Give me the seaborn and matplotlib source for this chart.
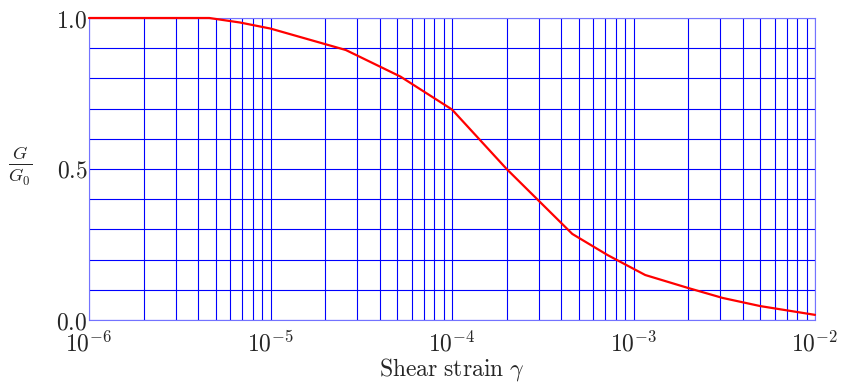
import matplotlib
matplotlib.use("Agg")
import matplotlib.pyplot as plt
import seaborn as sns
import numpy as np
import pandas as pd
from matplotlib.ticker import LogLocator, FixedLocator, NullFormatter

strain = [1e-6, 4.6e-6, 6.8e-6, 1.0e-5, 2.6e-5, 5.2e-5, 1.0e-4, 2.0e-4,
          4.6e-4, 7.2e-4, 1.16e-3, 2.0e-3, 3.1e-3, 5.0e-3, 1e-2]
ratio = [1.0, 1.0, 0.985, 0.965, 0.894, 0.806, 0.697, 0.50,
         0.285, 0.215, 0.149, 0.106, 0.073, 0.046, 0.017]
xtick_vals = [1e-6, 1e-5, 1e-4, 1e-3, 1e-2]
xtick_labels = [r"$10^{-6}$", r"$10^{-5}$", r"$10^{-4}$", r"$10^{-3}$", r"$10^{-2}$"]
ytick_vals = [0.0, 0.5, 1.0]
ytick_labels = [r"$0.0$", r"$0.5$", r"$1.0$"]

sns.set_theme(style="white")
plt.rcParams["mathtext.fontset"] = "cm"
plt.rcParams["font.family"] = ["DejaVu Serif"]

df = pd.DataFrame({"strain": strain, "ratio": ratio})

fig = plt.figure(figsize=(8.52, 3.84), dpi=100)
ax = fig.add_axes([89/852, 1-320/384, (815-89)/852, (320-18)/384])

ax.set_xscale("log")
ax.set_xlim(1e-6, 1e-2)
ax.set_ylim(0, 1)

# grid
ax.xaxis.set_major_locator(FixedLocator(xtick_vals))
ax.xaxis.set_minor_locator(LogLocator(base=10, subs=np.arange(2, 10)))
ax.xaxis.set_minor_formatter(NullFormatter())
ax.yaxis.set_major_locator(FixedLocator(ytick_vals))
ax.yaxis.set_minor_locator(FixedLocator(np.arange(0, 1.01, 0.1)))
ax.grid(True, which="both", color=(0, 0, 1), linewidth=0.8)
ax.set_axisbelow(True)

sns.lineplot(data=df, x="strain", y="ratio", ax=ax, color=(1, 0, 0),
             linewidth=1.6, clip_on=False, zorder=5)

ax.set_xticks(xtick_vals)
ax.set_xticklabels(xtick_labels, fontsize=17)
ax.set_yticks(ytick_vals)
ax.set_yticklabels(ytick_labels, fontsize=17)
ax.tick_params(axis="both", which="both", length=0)
ax.tick_params(axis="y", pad=1)
ax.tick_params(axis="x", pad=8)

for s in ax.spines.values():
    s.set_color((0.45, 0.45, 1.0))
    s.set_linewidth(0.8)

ax.set_xlabel(r"$\mathrm{Shear\ strain}\ \gamma$", fontsize=17, labelpad=0)
ax.set_ylabel("")
fig.text(20/852, 1-165/384, r"$\frac{G}{G_0}$", fontsize=19,
         ha="center", va="center")

fig.savefig("out.png", dpi=100)
